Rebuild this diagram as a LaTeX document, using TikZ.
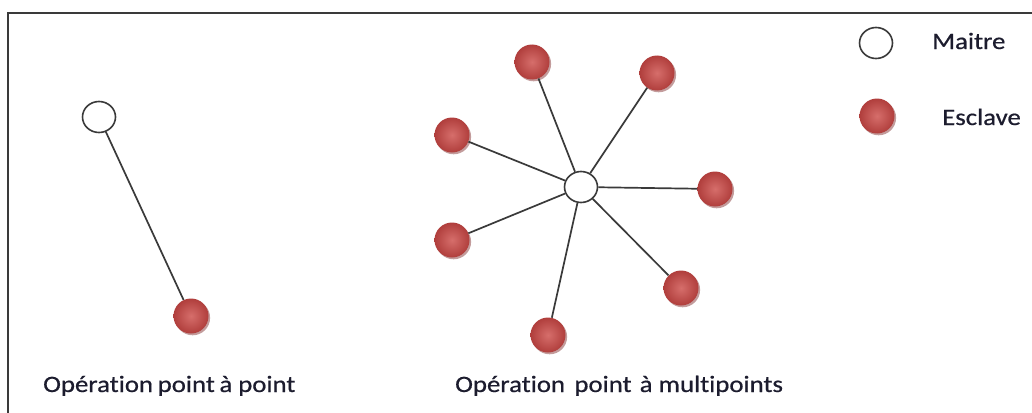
\documentclass[tikz,border=0pt]{standalone}
\usepackage{fontspec}
\newfontfamily\lblfont[FakeStretch=1.14,FakeBold=0.6,Ligatures=NoCommon]{Carlito}
\usetikzlibrary{shapes.geometric,shadows}
\definecolor{inkc}{HTML}{1C1C2E}
\definecolor{linec}{HTML}{3A3A3A}
\definecolor{slavein}{HTML}{D66E6B}
\definecolor{slaveout}{HTML}{B03E3C}
\definecolor{slaveshadow}{HTML}{7A2525}
\tikzset{
  master/.style={ellipse, draw=linec, line width=1.6pt, fill=white, minimum width=33pt, minimum height=31pt, inner sep=0pt},
  slave/.style={circle, minimum size=35pt, inner sep=0pt, shading=radial, inner color=slavein, outer color=slaveout,
    general shadow={shadow xshift=1.6pt, shadow yshift=-1.8pt, fill=slaveshadow, opacity=0.45}},
  link/.style={draw=linec, line width=1.7pt},
  lbl/.style={inner sep=0pt, anchor=base west, text=inkc, font=\lblfont\fontsize{23.5}{26}\selectfont}
}
\begin{document}
\begin{tikzpicture}[x=1pt,y=-1pt]
\useasboundingbox (0,0) rectangle (1032,412);
\fill[white] (0,0) rectangle (1032,412);
% frame
\draw[draw=linec, line width=2pt] (8,413) -- (8,13) -- (1033,13);
% point to point
\node[master] (m1) at (99,117) {};
\node[slave] (s0) at (191,316) {};
\draw[link] (m1) -- (s0);
% point to multipoint
\node[master] (m2) at (581,187) {};
\node[slave] (s1) at (532,62) {};
\node[slave] (s2) at (657,73) {};
\node[slave] (s3) at (452,135) {};
\node[slave] (s4) at (715,189) {};
\node[slave] (s5) at (452,240) {};
\node[slave] (s6) at (681,288) {};
\node[slave] (s7) at (548,335) {};
\foreach \s in {s1,s2,s3,s4,s5,s6,s7} {\draw[link] (m2) -- (\s);}
% legend
\node[master] (lm) at (876,43) {};
\node[slave] (ls) at (877,116) {};
\node[lbl] (tm) at (932,49) {Maitre};
\node[lbl] (ts) at (942,125) {Esclave};
% captions
\node[lbl] (c1) at (43,392) {Opération\hspace{0.2em}point\hspace{0.2em}à\hspace{0.25em}point};
\node[lbl] (c2) at (455,392) {Opération\hspace{0.4em}point\hspace{0.35em}à multipoints};
\end{tikzpicture}
\end{document}
